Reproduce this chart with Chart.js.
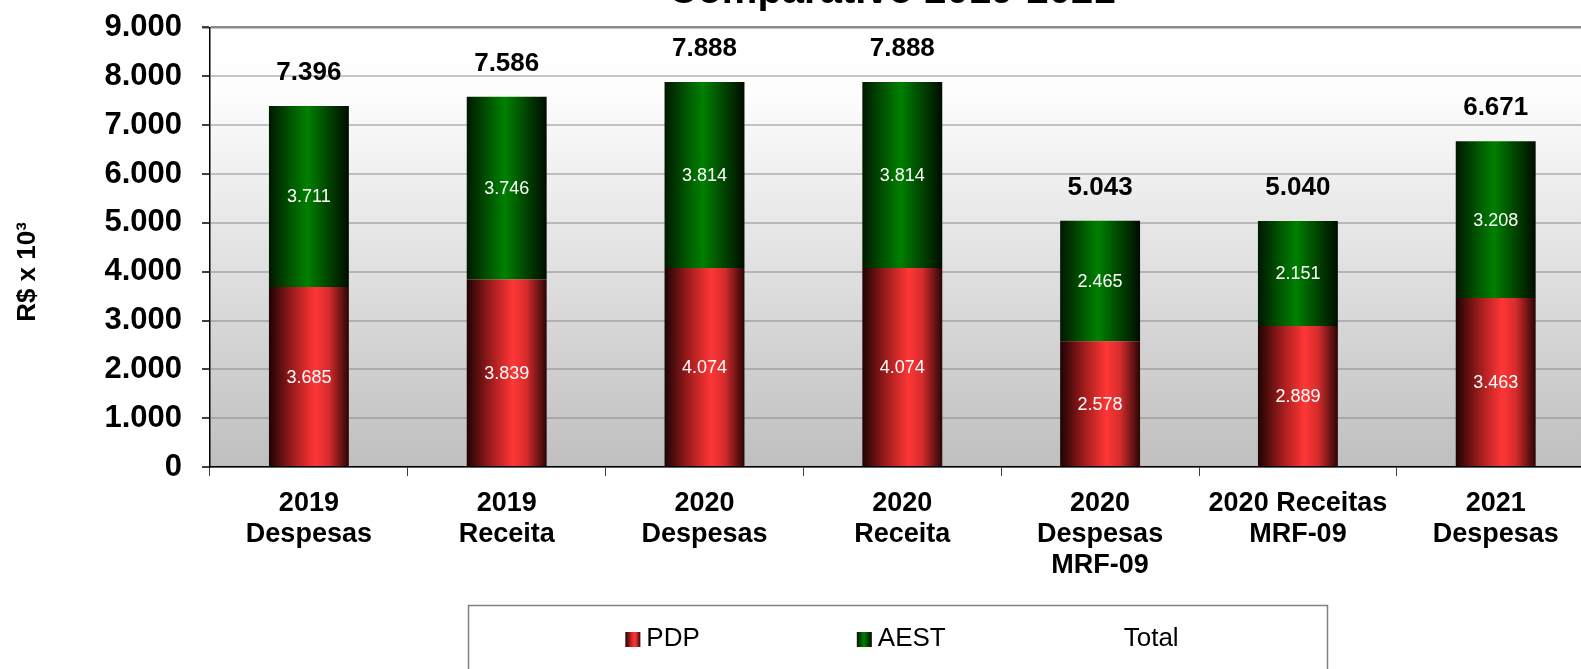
<!DOCTYPE html>
<html>
<head>
<meta charset="utf-8">
<script src="https://cdn.jsdelivr.net/npm/chart.js@4.4.1/dist/chart.umd.min.js"></script>
<style>
  html, body { margin: 0; padding: 0; background: #fff; overflow: hidden; }
  #wrap { position: absolute; left: 0; top: -11px; width: 1600px; height: 680px; }
</style>
</head>
<body>
<div id="wrap"><canvas id="chart"></canvas></div>
<script>
const FONT = "'Liberation Sans', Arial, sans-serif";
const SHIFT = 11; // canvas sits 11px above the window top

const categories = [
    ["2019", "Despesas"],
    ["2019", "Receita"],
    ["2020", "Despesas"],
    ["2020", "Receita"],
    ["2020", "Despesas", "MRF-09"],
    ["2020 Receitas", "MRF-09"],
    ["2021", "Despesas"],
];
const pdpValues = [3685, 3839, 4074, 4074, 2578, 2889, 3463];
const aestValues = [3711, 3746, 3814, 3814, 2465, 2151, 3208];
const totalValues = [7396, 7586, 7888, 7888, 5043, 5040, 6671];
const yMin = 0, yMax = 9000, yStep = 1000;

const chartTitle = "Comparativo 2019-2021";
const yTitle = "R$ x 10\u00B3";

const RED_STOPS = [[0, "#1e0303"], [0.3, "#a01c1c"], [0.58, "#ff3636"], [0.75, "#d62c2c"], [1, "#2a0505"]];
const GREEN_STOPS = [[0, "#001800"], [0.3, "#005c00"], [0.48, "#008000"], [0.68, "#005200"], [1, "#000c00"]];
const BAR_PCT = 0.404;

function fmt(n) {
    return String(n).replace(/\B(?=(\d{3})+(?!\d))/g, ".");
}

function hGradient(ctx, x0, x1, stops) {
    const g = ctx.createLinearGradient(x0, 0, x1, 0);
    stops.forEach(([p, c]) => g.addColorStop(p, c));
    return g;
}

// one horizontal gradient per bar, from the x scale
function barFill(stops, fallback) {
    return (c) => {
        const chart = c.chart;
        const xs = chart.scales.x;
        if (!chart.chartArea || !xs || c.dataIndex === undefined) return fallback;
        const cx = xs.getPixelForValue(c.dataIndex);
        const half = xs.width / categories.length * BAR_PCT / 2;
        return hGradient(chart.ctx, cx - half, cx + half, stops);
    };
}

const plotBackground = {
    id: "plotBackground",
    beforeDraw(chart) {
        const { ctx, chartArea: a } = chart;
        const g = ctx.createLinearGradient(0, a.top, 0, a.bottom);
        g.addColorStop(0, "#ffffff");
        g.addColorStop(0.15, "#fdfdfd");
        g.addColorStop(1, "#bfbfbf");
        ctx.save();
        ctx.fillStyle = g;
        ctx.fillRect(a.left, a.top, a.right - a.left, a.bottom - a.top);
        ctx.restore();
    }
};

const valueLabels = {
    id: "valueLabels",
    afterDatasetsDraw(chart) {
        const { ctx } = chart;
        ctx.save();
        ctx.textAlign = "center";
        ctx.textBaseline = "middle";
        // segment values
        ctx.fillStyle = "#ffffff";
        ctx.font = "18px " + FONT;
        [0, 1].forEach(di => {
            const meta = chart.getDatasetMeta(di);
            meta.data.forEach((el, i) => {
                const v = chart.data.datasets[di].data[i];
                ctx.fillText(fmt(v), el.x, (el.y + el.base) / 2 + 1);
            });
        });
        // totals above the stack
        ctx.fillStyle = "#000000";
        ctx.font = "bold 26px " + FONT;
        const top = chart.getDatasetMeta(1);
        chart.data.datasets[2].data.forEach((v, i) => {
            const el = top.data[i];
            ctx.fillText(fmt(v), el.x, el.y - 33);
        });
        ctx.restore();
    }
};

const decorations = {
    id: "decorations",
    afterDraw(chart) {
        const { ctx } = chart;
        ctx.save();
        ctx.translate(0, SHIFT);
        // title (cut by the top of the picture)
        ctx.fillStyle = "#000";
        ctx.font = "bold 40px " + FONT;
        ctx.textAlign = "center";
        ctx.textBaseline = "alphabetic";
        ctx.fillText(chartTitle, 892, 3);

        // y axis title
        ctx.save();
        ctx.translate(28, 272);
        ctx.rotate(-Math.PI / 2);
        ctx.font = "bold 26px " + FONT;
        ctx.textBaseline = "middle";
        ctx.fillText(yTitle, 0, 0);
        ctx.restore();

        // legend box
        ctx.strokeStyle = "#808080";
        ctx.lineWidth = 1.5;
        ctx.strokeRect(468.5, 605.5, 859, 120);

        ctx.font = "26px " + FONT;
        ctx.textAlign = "left";
        ctx.textBaseline = "middle";
        const sw = 15, gap = 6, spacing = 157;
        const items = chart.data.datasets.map(d => ({ label: d.label, w: ctx.measureText(d.label).width }));
        const full = items.reduce((s, it) => s + sw + gap + it.w, 0) + spacing * (items.length - 1);
        let x = 902 - full / 2;
        const stops = [RED_STOPS, GREEN_STOPS, null];
        items.forEach((it, i) => {
            if (stops[i]) {
                ctx.fillStyle = hGradient(ctx, x, x + sw, stops[i]);
                ctx.fillRect(x, 632, sw, 15);
            }
            ctx.fillStyle = "#000";
            ctx.fillText(it.label, x + sw + gap, 639);
            x += sw + gap + it.w + spacing;
        });
        ctx.restore();
    }
};

new Chart(document.getElementById("chart"), {
    type: "bar",
    data: {
        labels: categories,
        datasets: [
            {
                label: "PDP",
                data: pdpValues,
                backgroundColor: barFill(RED_STOPS, "#ff3333"),
                borderWidth: 0,
                barPercentage: BAR_PCT,
                categoryPercentage: 1,
                stack: "s",
            },
            {
                label: "AEST",
                data: aestValues,
                backgroundColor: barFill(GREEN_STOPS, "#008000"),
                borderWidth: 0,
                barPercentage: BAR_PCT,
                categoryPercentage: 1,
                stack: "s",
            },
            {
                type: "line",
                label: "Total",
                data: totalValues,
                borderColor: "rgba(0,0,0,0)",
                backgroundColor: "rgba(0,0,0,0)",
                showLine: false,
                pointRadius: 0,
                pointHoverRadius: 0,
                stack: "t",
            },
        ]
    },
    options: {
        responsive: true,
        maintainAspectRatio: false,
        animation: false,
        layout: { padding: { top: 15, right: 5.4, bottom: 0, left: 0 } },
        plugins: {
            legend: { display: false },
            title: { display: false },
            tooltip: { enabled: false },
        },
        scales: {
            x: {
                stacked: true,
                afterFit(scale) { scale.height = 202; },
                grid: {
                    offset: true,
                    drawOnChartArea: false,
                    drawTicks: true,
                    tickLength: 9,
                    tickColor: "#404040",
                },
                border: { color: "#000000", width: 1.5 },
                ticks: {
                    color: "#000000",
                    autoSkip: false,
                    maxRotation: 0,
                    minRotation: 0,
                    padding: 12,
                    font: { family: FONT, size: 27, weight: "bold", lineHeight: 1.15 },
                },
            },
            y: {
                stacked: true,
                min: yMin,
                max: yMax,
                afterFit(scale) { scale.width = 210; },
                grid: {
                    color: (c) => c.tick && c.tick.value === yMax ? "#8a8a8a" : "rgba(128,128,128,0.45)",
                    lineWidth: (c) => c.tick && c.tick.value === yMax ? 2.5 : 2,
                    tickLength: 8,
                    tickColor: "#404040",
                },
                border: { color: "#000000", width: 1.5 },
                ticks: {
                    stepSize: yStep,
                    color: "#000000",
                    padding: 20,
                    font: { family: FONT, size: 31, weight: "bold" },
                    callback: (v) => fmt(v),
                },
            },
        },
    },
    plugins: [plotBackground, valueLabels, decorations],
});
</script>
</body>
</html>
